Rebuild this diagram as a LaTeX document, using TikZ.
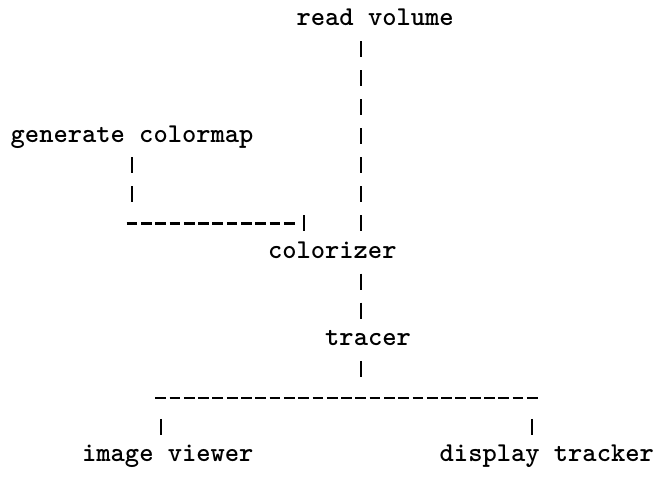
\documentclass[tikz,border=0pt]{standalone}
\usepackage{fontspec}
\usetikzlibrary{calc}

\begin{document}
\begin{tikzpicture}[x=10.725pt,y=-21.8pt,
    lbl/.style={font=\fontsize{20.4}{24}\selectfont\ttfamily\bfseries,
                inner sep=0pt,text height=8.8pt,text depth=0pt},
    pipe/.style={line width=1.5pt,dash pattern=on 12pt off 9.8pt},
    dashrow/.style={line width=1.6pt,dash pattern=on 8.04pt off 2.68pt}]
  \useasboundingbox (-7.9pt,15pt) rectangle (486.35pt,-342.75pt);
  % Labels on the character grid
  \node[lbl] (readvol)   at (25.5,0)  {read volume};
  \node[lbl] (genmap)    at (8.5,4)   {generate colormap};
  \node[lbl] (colorizer) at (22.5,8)  {colorizer};
  \node[lbl] (tracer)    at (25,11)   {tracer};
  \node[lbl] (viewer)    at (11,15)   {image viewer};
  \node[lbl] (tracker)   at (37.5,15) {display tracker};
  % read volume -> colorizer
  \draw[pipe]($(readvol)+(-1,0.725)$)--($(colorizer)+(2,-0.725)$);
  % generate colormap -> colorizer
  \draw[pipe]($(genmap)+(0,0.725)$)--($(genmap)+(0,2.275)$);
  \draw[dashrow]($(genmap)+(-0.375,3)$)--($(colorizer)+(-2.625,-1)$);
  \draw[pipe]($(colorizer)+(-2,-1.275)$)--($(colorizer)+(-2,-0.725)$);
  % colorizer -> tracer
  \draw[pipe]($(colorizer)+(2,0.725)$)--($(tracer)+(-0.5,-0.725)$);
  % tracer -> image viewer, display tracker
  \draw[pipe]($(tracer)+(-0.5,0.725)$)--($(tracer)+(-0.5,1.275)$);
  \draw[dashrow]($(viewer)+(-0.875,-2)$)--($(tracker)+(-0.625,-2)$);
  \draw[pipe]($(viewer)+(-0.5,-1.275)$)--($(viewer)+(-0.5,-0.725)$);
  \draw[pipe]($(tracker)+(-1,-1.275)$)--($(tracker)+(-1,-0.725)$);
\end{tikzpicture}
\end{document}
